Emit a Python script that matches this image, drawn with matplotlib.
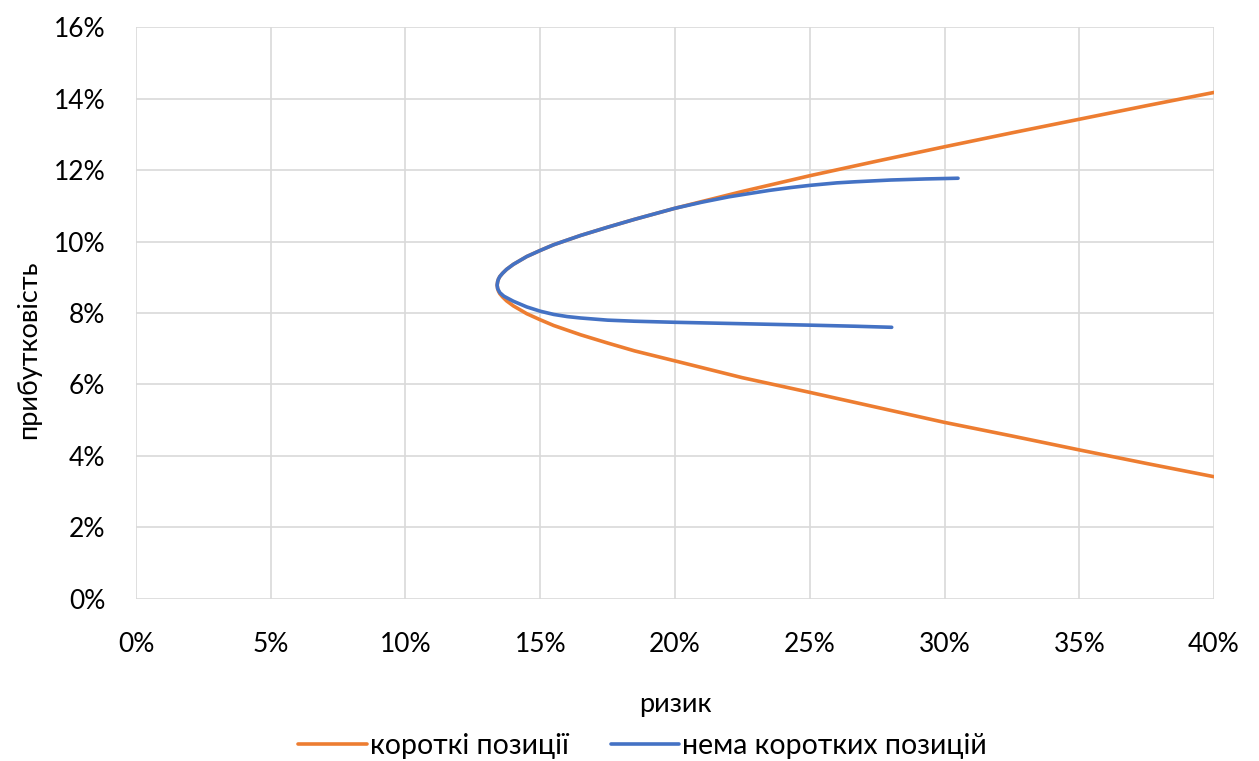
import matplotlib.pyplot as plt
from matplotlib.ticker import FuncFormatter

plt.rcParams['font.family'] = ['Lato', 'DejaVu Sans']

# Ефективна межа з короткими позиціями (ризик %, прибутковість %)
short_risk = [40.0, 37.5, 35.0, 32.5, 30.0, 27.5, 25.0, 22.5, 20.0, 18.5, 17.5, 16.5, 16.0,
              15.5, 15.0, 14.5, 14.0, 13.75, 13.6, 13.5, 13.45, 13.42, 13.40,
              13.42, 13.45, 13.5, 13.6, 13.75, 14.0, 14.5, 15.0, 15.5, 16.0, 16.5, 17.5,
              18.5, 20.0, 22.5, 25.0, 27.5, 30.0, 32.5, 35.0, 37.5, 40.0]
short_ret = [14.17, 13.80, 13.42, 13.04, 12.65, 12.25, 11.84, 11.40, 10.93, 10.62, 10.40, 10.17,
             10.04, 9.91, 9.75, 9.58, 9.36, 9.22, 9.11, 9.02, 8.95, 8.88, 8.78,
             8.68, 8.61, 8.54, 8.45, 8.34, 8.20, 7.98, 7.81, 7.65, 7.52, 7.39, 7.16,
             6.94, 6.66, 6.19, 5.78, 5.36, 4.94, 4.56, 4.17, 3.79, 3.42]

# Без коротких позицій
long_risk = [30.5, 29.3, 28.0, 26.67, 26.0, 25.0, 24.3, 23.5, 22.66, 22.0, 21.0, 20.0, 18.5,
             17.5, 16.5, 16.0, 15.5, 15.0, 14.5, 14.0, 13.75, 13.6, 13.5, 13.45, 13.42, 13.40,
             13.42, 13.5, 13.65, 14.0, 14.5, 15.0, 15.5, 16.0, 16.5, 17.5, 18.5, 20.0, 22.5,
             25.0, 26.67, 28.04]
long_ret = [11.77, 11.75, 11.72, 11.67, 11.64, 11.57, 11.51, 11.43, 11.33, 11.25, 11.10, 10.93,
            10.62, 10.40, 10.17, 10.04, 9.91, 9.75, 9.58, 9.36, 9.22, 9.11, 9.02, 8.95, 8.88,
            8.78, 8.68, 8.57, 8.47, 8.33, 8.17, 8.05, 7.96, 7.90, 7.86, 7.80, 7.77, 7.74, 7.70,
            7.66, 7.63, 7.60]

fig = plt.figure(figsize=(12.59, 7.61), dpi=100)
ax = fig.add_axes([0.108, 0.2129, 0.8563, 0.7516])

ax.plot(short_risk, short_ret, color='#ED7D31', lw=2.6, label='короткі позиції',
        solid_capstyle='round', solid_joinstyle='round')
ax.plot(long_risk, long_ret, color='#4472C4', lw=2.6, label='нема коротких позицій',
        solid_capstyle='round', solid_joinstyle='round')

ax.set_xlim(0, 40)
ax.set_ylim(0, 16)
ax.set_xticks(range(0, 41, 5))
ax.set_yticks(range(0, 17, 2))
pct = FuncFormatter(lambda v, p: f'{v:.0f}%')
ax.xaxis.set_major_formatter(pct)
ax.yaxis.set_major_formatter(pct)

ax.grid(True, color='#d9d9d9', lw=1.2)
ax.set_axisbelow(True)
for s in ax.spines.values():
    s.set_visible(False)
ax.tick_params(length=0, labelsize=19, colors='#000000')
ax.tick_params(axis='x', pad=24)
ax.tick_params(axis='y', pad=22)

ax.set_xlabel('ризик', fontsize=19.5)
ax.xaxis.set_label_coords(0.50, -0.163)
ax.set_ylabel('прибутковість', fontsize=19.5)
ax.yaxis.set_label_coords(-0.088, 0.435)

ax.legend(loc='upper center', bbox_to_anchor=(0.47, -0.19), ncol=2, frameon=False,
          fontsize=20.5, handlelength=2.4, handletextpad=0.1, columnspacing=1.5)

fig.savefig('out.png', dpi=100)
